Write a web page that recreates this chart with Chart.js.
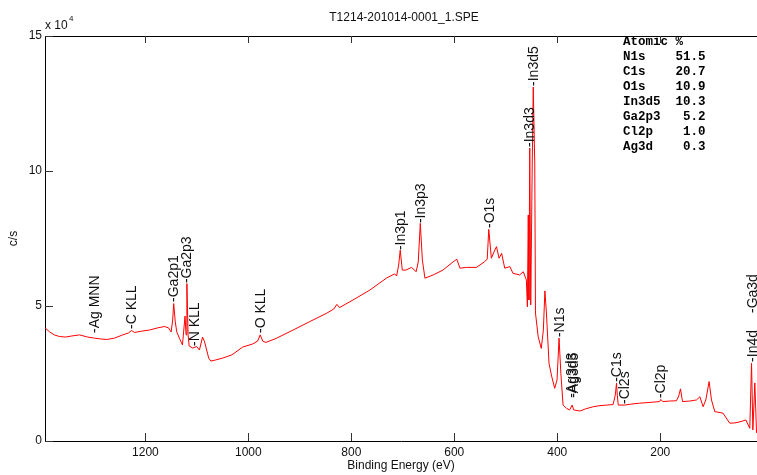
<!DOCTYPE html>
<html lang="en">
<head>
  <meta charset="UTF-8">
  <title>T1214-201014-0001_1.SPE</title>
  <script src="https://cdn.jsdelivr.net/npm/chart.js"></script>
  <style>
    html, body { margin: 0; padding: 0; background: #fff; }
    #wrap { width: 757px; height: 475px; }
  </style>
</head>
<body>
  <div id="wrap"><canvas id="xps" width="757" height="475"></canvas></div>

  <script>
    const spectrumTitle = 'T1214-201014-0001_1.SPE';

    // binding energy (eV) and counts (x 10^4 c/s)
    const bindingEnergy = [1395, 1386, 1377, 1367, 1355, 1343, 1328, 1312, 1299, 1287, 1275, 1260, 1244, 1233, 1227, 1221,
      1207, 1192, 1176, 1163, 1155, 1150, 1147, 1145, 1142, 1139, 1134, 1128, 1123, 1121, 1119.4, 1117, 1115, 1108, 1100.5,
      1095, 1089, 1085, 1081, 1077, 1073, 1064, 1050, 1032, 1011, 992, 982, 977, 972, 966, 946, 913, 881, 848, 834, 828, 823,
      797, 764, 732, 716, 712, 708, 705, 701, 694, 683, 674, 670, 666, 662, 657, 641, 622, 602, 595, 589, 576, 557, 541, 536,
      533, 528, 523, 518, 513, 508, 502, 492, 486, 473, 466, 460, 458, 456.3, 455, 453.4, 451.5, 448.6, 446.6, 443.7, 442.3,
      437, 431, 427, 424, 421, 416, 411, 405, 400.4, 396.5, 393, 388.7, 382, 376, 371, 368, 356, 345, 330, 317, 304, 291.5,
      287.3, 284.9, 283.4, 281.5, 269, 255, 240, 220, 201, 199, 195, 181.5, 168.4, 164, 160.6, 156.7, 142.5, 129.5, 123,
      116.7, 111.4, 105, 100.4, 94, 78, 65, 55, 45, 33.6, 26, 22.6, 20, 16.2, 12.9];
    const counts = [4.19, 4.04, 3.93, 3.87, 3.85, 3.89, 3.93, 3.85, 3.81, 3.78, 3.76, 3.81, 3.93, 4.00, 4.09, 4.02,
      4.07, 4.11, 4.19, 4.24, 4.19, 4.04, 4.48, 5.09, 4.41, 4.04, 3.81, 3.56, 4.63, 3.93, 5.83, 3.93, 3.52, 3.44, 3.50,
      3.37, 3.85, 3.67, 3.37, 3.07, 2.96, 3.00, 3.07, 3.19, 3.48, 3.59, 3.70, 3.93, 3.70, 3.65, 3.80, 4.11, 4.42, 4.73, 4.89, 5.06, 4.94,
      5.22, 5.59, 6.03, 6.19, 6.11, 6.52, 7.07, 6.33, 6.33, 6.43, 6.27, 6.63, 8.06, 6.70, 6.03, 6.15, 6.33, 6.64, 6.73, 6.40, 6.43, 6.43, 6.64, 6.74,
      7.84, 6.77, 7.00, 7.20, 6.77, 6.95, 6.40, 6.46, 6.21, 6.15, 6.27, 5.96, 4.97, 8.37, 5.22, 10.85, 5.04, 10.22, 13.11, 10.30, 4.74,
      3.86, 3.43, 4.11, 5.56, 4.74, 2.88, 2.41, 1.95, 2.26, 3.81, 2.51, 1.33, 1.21, 1.15, 1.33, 1.15, 1.11, 1.19, 1.27, 1.31, 1.33, 1.35,
      1.70, 2.14, 1.70, 1.33, 1.33, 1.37, 1.40, 1.43, 1.46, 1.54, 1.46, 1.48, 1.49, 1.67, 1.93, 1.46, 1.48, 1.52, 1.64,
      1.27, 1.52, 2.20, 1.52, 1.09, 1.03, 0.66, 0.67, 0.71, 0.78, 0.47, 2.88, 0.41, 2.15, 0.30];

    const xTicks = [1200, 1000, 800, 600, 400, 200];
    const yTicks = [0, 5, 10, 15];

    // peak markers: text, energy, height where the label starts
    const peakNames = ['-Ag MNN', '-C KLL', '-Ga2p1', '-Ga2p3', '-N KLL', '-O KLL', '-In3p1', '-In3p3', '-O1s',
      '-In3d3', '-In3d5', '-N1s', '-Ag3d3', '-Ag3d5', '-C1s', '-Cl2s', '-Cl2p', '-In4d', '-Ga3d'];
    const peakEnergy = [1297, 1225, 1145, 1118, 1104, 976, 704, 665, 531, 453, 444, 395, 372, 368, 284, 269, 199, 20, 20];
    const peakTop = [4.0, 4.15, 5.15, 5.85, 3.52, 4.0, 7.07, 8.07, 7.89, 10.89, 13.15, 3.85, 1.6, 1.6, 2.19, 1.37, 1.59, 2.93, 4.74];

    const elements = ['N1s', 'C1s', 'O1s', 'In3d5', 'Ga2p3', 'Cl2p', 'Ag3d'];
    const atomicPct = [51.5, 20.7, 10.9, 10.3, 5.2, 1.0, 0.3];

    Chart.defaults.font.family = '"Liberation Sans", Arial, sans-serif';
    Chart.defaults.color = '#111';

    const decorations = {
      id: 'decorations',
      afterDatasetsDraw(chart) {
        const { ctx, chartArea: a, scales: { x, y } } = chart;
        ctx.save();
        ctx.strokeStyle = '#000';
        ctx.lineWidth = 1;
        ctx.beginPath();
        ctx.moveTo(a.left, a.top + 0.5);
        ctx.lineTo(a.right, a.top + 0.5);
        ctx.stroke();

        // inward ticks, mirrored on top
        ctx.strokeStyle = '#333';
        ctx.beginPath();
        xTicks.forEach(v => {
          const px = Math.round(x.getPixelForValue(v)) + 0.5;
          ctx.moveTo(px, a.bottom); ctx.lineTo(px, a.bottom - 8);
          ctx.moveTo(px, a.top); ctx.lineTo(px, a.top + 7);
        });
        yTicks.forEach(v => {
          const py = Math.round(y.getPixelForValue(v)) + 0.5;
          ctx.moveTo(a.left, py); ctx.lineTo(a.left + 8, py);
        });
        ctx.stroke();

        ctx.font = '14px "Liberation Sans", Arial, sans-serif';
        ctx.fillStyle = '#111';
        ctx.textAlign = 'left';
        ctx.textBaseline = 'middle';
        peakNames.forEach((name, i) => {
          ctx.save();
          ctx.translate(x.getPixelForValue(peakEnergy[i]), y.getPixelForValue(peakTop[i]));
          ctx.rotate(-Math.PI / 2);
          ctx.fillText(name, 0, 0);
          ctx.restore();
        });
        ctx.restore();
      },
      afterDraw(chart) {
        const ctx = chart.ctx;
        ctx.save();
        ctx.fillStyle = '#111';
        ctx.textBaseline = 'middle';
        ctx.font = '12px "Liberation Sans", Arial, sans-serif';
        ctx.textAlign = 'center';
        ctx.fillText(spectrumTitle, 404, 18);
        ctx.textAlign = 'left';
        ctx.fillText('x 10', 45, 26);
        ctx.font = '8px "Liberation Sans", Arial, sans-serif';
        ctx.fillText('4', 69, 19);

        ctx.fillStyle = '#000';
        ctx.font = 'bold 12.5px "Liberation Mono", "Courier New", monospace';
        ctx.fillText('Atomic %', 623, 42);
        elements.forEach((el, i) => {
          ctx.fillText(el.padEnd(7) + atomicPct[i].toFixed(1).padStart(4), 623, 57 + i * 14.9);
        });
        ctx.restore();
      }
    };

    new Chart(document.getElementById('xps'), {
      type: 'line',
      data: {
        datasets: [{
          data: bindingEnergy.map((e, i) => ({ x: e, y: counts[i] })),
          borderColor: '#ff0000',
          borderWidth: 1,
          pointRadius: 0,
          tension: 0,
          fill: false
        }]
      },
      options: {
        responsive: false,
        animation: false,
        layout: { padding: { top: 36, right: 0, left: 0, bottom: 0 } },
        plugins: { legend: { display: false }, tooltip: { enabled: false } },
        scales: {
          x: {
            type: 'linear',
            reverse: true,
            min: 12,
            max: 1395,
            afterBuildTicks: s => { s.ticks = xTicks.map(v => ({ value: v })); },
            afterFit: s => { s.height = 34; },
            grid: { display: false, drawTicks: false },
            border: { display: true, color: '#000', width: 1 },
            ticks: { padding: 4, font: { size: 12 }, color: '#111', maxRotation: 0, callback: v => String(v) },
            title: { display: true, text: 'Binding Energy (eV)', font: { size: 12 }, color: '#111', padding: { top: 0, bottom: 2 } }
          },
          y: {
            min: 0,
            max: 15,
            afterBuildTicks: s => { s.ticks = yTicks.map(v => ({ value: v })); },
            afterFit: s => { s.width = 45; },
            grid: { display: false, drawTicks: false },
            border: { display: true, color: '#000', width: 1 },
            ticks: { padding: 3, font: { size: 12 }, color: '#111', callback: v => String(v) },
            title: { display: true, text: 'c/s', font: { size: 12 }, color: '#111', padding: { top: 6, bottom: 0 } }
          }
        }
      },
      plugins: [decorations]
    });
  </script>
</body>
</html>
